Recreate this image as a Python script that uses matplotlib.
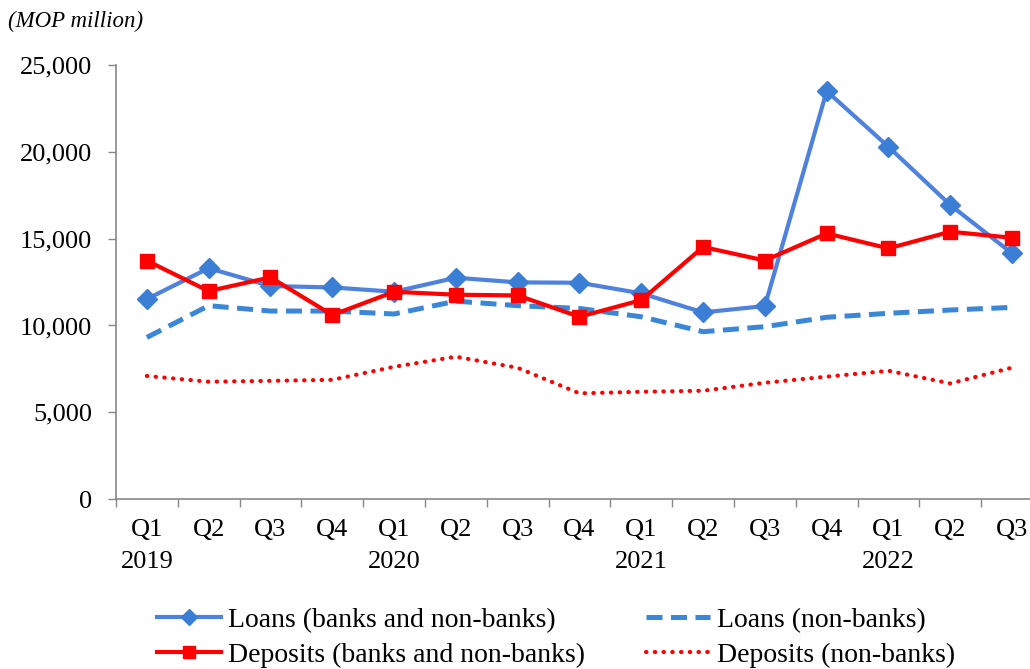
import matplotlib

matplotlib.use("Agg")
import matplotlib.pyplot as plt
from matplotlib.ticker import FuncFormatter

plt.rcParams["font.family"] = ["Liberation Serif", "DejaVu Serif"]

quarters = ["Q1\n2019", "Q2", "Q3", "Q4", "Q1\n2020", "Q2", "Q3", "Q4",
            "Q1\n2021", "Q2", "Q3", "Q4", "Q1\n2022", "Q2", "Q3"]

# MOP million, end of quarter
loans_all = [11520, 13300, 12270, 12190, 11940, 12750, 12480, 12460,
             11850, 10750, 11120, 23500, 20290, 16940, 14150]
loans_nonbank = [9310, 11140, 10830, 10830, 10660, 11400, 11140, 10980,
                 10500, 9640, 9930, 10470, 10700, 10890, 11040]
deposits_all = [13730, 11980, 12770, 10600, 11940, 11770, 11730, 10500,
                11460, 14520, 13740, 15300, 14440, 15400, 15050]
deposits_nonbank = [7090, 6760, 6810, 6870, 7620, 8200, 7560, 6090,
                    6180, 6240, 6700, 7050, 7390, 6660, 7570]

BLUE = "#4f82de"
BLUE_MK = "#3b7ed6"
BLUE_DASH = "#3a86d9"
RED = "#ff0000"
AXIS = "#878787"

fig = plt.figure(figsize=(10.30, 6.69), dpi=100)
ax = fig.add_axes([0.1126, 0.254, 0.900, 0.6488])

x = list(range(len(quarters)))

ax.plot(x, loans_nonbank, color=BLUE_DASH, lw=3.6, dashes=(3.2, 1.7),
        label="Loans (non-banks)", zorder=2)
ax.plot(x, deposits_nonbank, color=RED, lw=3.0, linestyle=(0, (0.1, 2.0)),
        dash_capstyle="round", label="Deposits (non-banks)", zorder=2)
ax.plot(x, loans_all, color=BLUE, lw=3.0, marker="D", ms=10,
        mfc=BLUE_MK, mec=BLUE_MK, label="Loans (banks and non-banks)", zorder=3)
ax.plot(x, deposits_all, color=RED, lw=3.0, marker="s", ms=10,
        mfc=RED, mec=RED, label="Deposits (banks and non-banks)", zorder=4)

ax.set_xlim(-0.5, len(quarters) - 0.5)
ax.set_ylim(0, 25000)
ax.set_yticks(range(0, 25001, 5000))
ax.yaxis.set_major_formatter(FuncFormatter(lambda v, _: f"{int(v):,}"))

ax.set_xticks(x)
ax.set_xticklabels(quarters, linespacing=1.6)
ax.set_xticks([i - 0.5 for i in range(len(quarters) + 1)], minor=True)
ax.tick_params(axis="x", which="major", length=0, pad=14, labelsize=19)
ax.tick_params(axis="x", which="minor", length=6, width=1, color=AXIS)
ax.tick_params(axis="y", length=6, width=1, color=AXIS, pad=11, labelsize=19)

for side in ("top", "right"):
    ax.spines[side].set_visible(False)
for side in ("left", "bottom"):
    ax.spines[side].set_color(AXIS)
    ax.spines[side].set_linewidth(1.2)

fig.text(0.008, 0.968, "(MOP million)", style="italic", fontsize=16.5,
         ha="left", va="center")

# column-first fill: loans in the top row, deposits below
handles, labels = ax.get_legend_handles_labels()
order = [2, 3, 0, 1]
leg = fig.legend([handles[i] for i in order], [labels[i] for i in order],
                 loc="center", bbox_to_anchor=(0.540, 0.047), ncol=2,
                 frameon=False, fontsize=20, handlelength=2.3,
                 handletextpad=0.25, columnspacing=2.2, labelspacing=0.35,
                 markerscale=0.8)

fig.savefig("out.png", dpi=100)
